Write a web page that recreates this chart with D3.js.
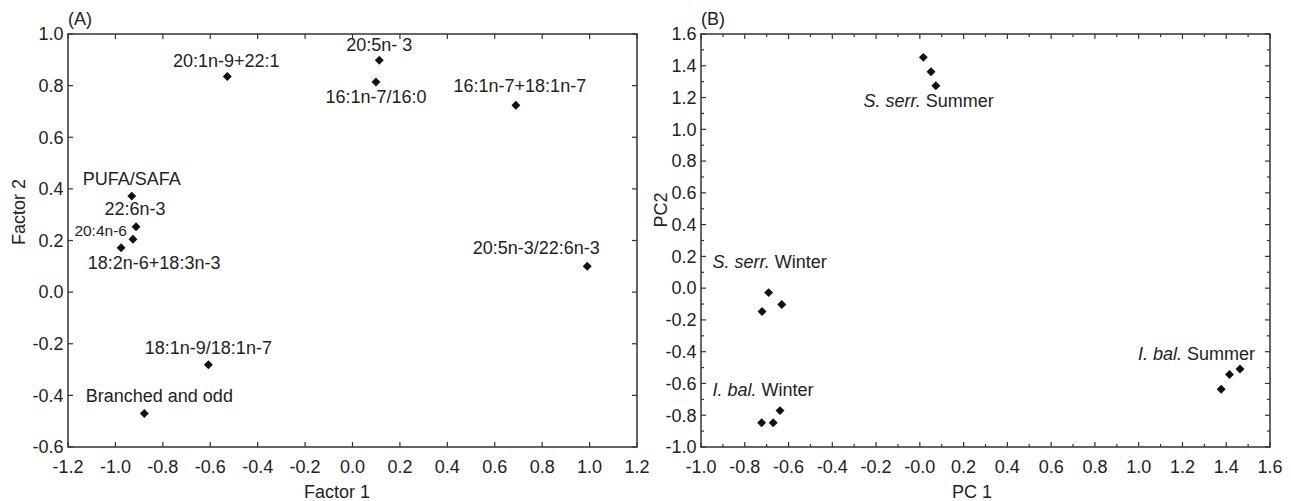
<!DOCTYPE html>
<html>
<head>
<meta charset="utf-8">
<script src="https://cdn.jsdelivr.net/npm/d3@7"></script>
<style>
  body { margin: 0; background: #fff; }
  svg text { font-family: "Liberation Sans", Arial, sans-serif; fill: #222; }
</style>
</head>
<body>
<div id="chart"></div>
<script>
// panel A: factor loadings
var fattyAcids = ['20:1n-9+22:1', '20:5n- 3', '16:1n-7/16:0', '16:1n-7+18:1n-7', 'PUFA/SAFA', '22:6n-3',
  '20:4n-6', '18:2n-6+18:3n-3', '20:5n-3/22:6n-3', '18:1n-9/18:1n-7', 'Branched and odd']
var factor1 = [-0.528, 0.113, 0.099, 0.689, -0.931, -0.913, -0.926, -0.976, 0.990, -0.608, -0.878]
var factor2 = [0.835, 0.898, 0.814, 0.724, 0.372, 0.253, 0.205, 0.172, 0.100, -0.281, -0.470]

// panel B: PCA scores
var pcGroup = ['S. serr. Summer', 'S. serr. Summer', 'S. serr. Summer',
  'S. serr. Winter', 'S. serr. Winter', 'S. serr. Winter',
  'I. bal. Winter', 'I. bal. Winter', 'I. bal. Winter',
  'I. bal. Summer', 'I. bal. Summer', 'I. bal. Summer']
var pc1 = [0.016, 0.051, 0.073, -0.691, -0.631, -0.721, -0.639, -0.723, -0.670, 1.463, 1.415, 1.377]
var pc2 = [1.453, 1.362, 1.274, -0.028, -0.103, -0.147, -0.771, -0.847, -0.847, -0.509, -0.544, -0.637]
var groupNames = ['S. serr. Summer', 'S. serr. Winter', 'I. bal. Winter', 'I. bal. Summer']
var groupItalic = ['S. serr.', 'S. serr.', 'I. bal.', 'I. bal.']
var groupPlain = [' Summer', ' Winter', ' Winter', ' Summer']

// tick labels
var aXTicks = ['-1.2', '-1.0', '-0.8', '-0.6', '-0.4', '-0.2', '0.0', '0.2', '0.4', '0.6', '0.8', '1.0', '1.2']
var aYTicks = ['-0.6', '-0.4', '-0.2', '0.0', '0.2', '0.4', '0.6', '0.8', '1.0']
var bXTicks = ['-1.0', '-0.8', '-0.6', '-0.4', '-0.2', '-0.0', '0.2', '0.4', '0.6', '0.8', '1.0', '1.2', '1.4', '1.6']
var bYTicks = ['-1.0', '-0.8', '-0.6', '-0.4', '-0.2', '0.0', '0.2', '0.4', '0.6', '0.8', '1.0', '1.2', '1.4', '1.6']

// label placement (layout only)
var aLabelOffset = [[-1, -10, 'middle'], [0, -9, 'middle'], [0, 21, 'middle'], [4, -13, 'middle'],
  [0, -11, 'middle'], [-1, -12, 'middle'], [-6, -3, 'end'], [33, 21, 'middle'], [-51, -12, 'middle'],
  [0, -11, 'middle'], [15, -11, 'middle']]
var bLabelPos = [[-0.258, 1.138, 'start'], [-0.948, 0.124, 'start'], [-0.948, -0.679, 'start'], [1.532, -0.454, 'end']]

var W = 1291, H = 501
var axisColor = '#333'

var svg = d3.select('#chart').append('svg')
  .attr('width', W)
  .attr('height', H)

var diamond = d3.symbol().type(d3.symbolSquare).size(40)

function tickStr(v) { return Math.round(v * 10) }

function frame(g, x, y, majorX, majorY, minorX, minorY) {
  var x0 = x.range()[0], x1 = x.range()[1]
  var y0 = y.range()[0], y1 = y.range()[1]
  g.append('rect')
    .attr('x', x0).attr('y', y1)
    .attr('width', x1 - x0).attr('height', y0 - y1)
    .attr('fill', 'none').attr('stroke', axisColor).attr('stroke-width', 1.5)

  function ticks(vals, len, horiz) {
    vals.forEach(function (v) {
      if (horiz) {
        var px = x(v)
        g.append('line').attr('x1', px).attr('x2', px).attr('y1', y0).attr('y2', y0 - len).attr('stroke', axisColor).attr('stroke-width', 1.2)
        g.append('line').attr('x1', px).attr('x2', px).attr('y1', y1).attr('y2', y1 + len).attr('stroke', axisColor).attr('stroke-width', 1.2)
      } else {
        var py = y(v)
        g.append('line').attr('x1', x0).attr('x2', x0 + len).attr('y1', py).attr('y2', py).attr('stroke', axisColor).attr('stroke-width', 1.2)
        g.append('line').attr('x1', x1).attr('x2', x1 - len).attr('y1', py).attr('y2', py).attr('stroke', axisColor).attr('stroke-width', 1.2)
      }
    })
  }
  ticks(majorX, 5, true)
  ticks(majorY, 5, false)
  if (minorX) ticks(minorX, 3, true)
  if (minorY) ticks(minorY, 3, false)
}

function tickLabels(g, x, y, xt, yt) {
  g.selectAll('.xt').data(xt).enter().append('text')
    .attr('x', function (d) { return x(+d) })
    .attr('y', y.range()[0] + 26)
    .attr('text-anchor', 'middle')
    .style('font-size', '18px')
    .text(function (d) { return d })
  g.selectAll('.yt').data(yt).enter().append('text')
    .attr('x', x.range()[0] - 4.5)
    .attr('y', function (d) { return y(+d) })
    .attr('dy', '0.35em')
    .attr('text-anchor', 'end')
    .style('font-size', '18px')
    .text(function (d) { return d })
}

// ---------- Panel A ----------
var xA = d3.scaleLinear().domain([-1.2, 1.2]).range([68, 637])
var yA = d3.scaleLinear().domain([-0.6, 1.0]).range([447, 34])
var gA = svg.append('g')

frame(gA, xA, yA, aXTicks.map(Number), aYTicks.map(Number))
tickLabels(gA, xA, yA, aXTicks, aYTicks)

gA.selectAll('.pt').data(fattyAcids).enter().append('path')
  .attr('d', diamond)
  .attr('transform', function (d, i) {
    return 'translate(' + xA(factor1[i]) + ',' + yA(factor2[i]) + ') rotate(45)'
  })
  .attr('fill', '#111')

gA.selectAll('.lbl').data(fattyAcids).enter().append('text')
  .attr('x', function (d, i) { return xA(factor1[i]) + aLabelOffset[i][0] })
  .attr('y', function (d, i) { return yA(factor2[i]) + aLabelOffset[i][1] })
  .attr('text-anchor', function (d, i) { return aLabelOffset[i][2] })
  .style('font-size', function (d) { return d === '20:4n-6' ? '15.5px' : '18px' })
  .text(function (d) { return d })

gA.append('text').attr('x', 68).attr('y', 25).style('font-size', '18px').text('(A)')
gA.append('text').attr('x', 337).attr('y', 498).attr('text-anchor', 'middle').style('font-size', '18px').text('Factor 1')
gA.append('text')
  .attr('transform', 'translate(25,212) rotate(-90)')
  .attr('text-anchor', 'middle')
  .style('font-size', '18px')
  .text('Factor 2')

// ---------- Panel B ----------
var xB = d3.scaleLinear().domain([-1.0, 1.6]).range([701, 1270])
var yB = d3.scaleLinear().domain([-1.0, 1.6]).range([447, 34])
var gB = svg.append('g')

var minorB = d3.range(-9, 16, 2).map(function (v) { return v / 10 })
frame(gB, xB, yB, bXTicks.map(Number), bYTicks.map(Number), minorB, minorB)
tickLabels(gB, xB, yB, bXTicks, bYTicks)

gB.selectAll('.pt').data(pcGroup).enter().append('path')
  .attr('d', diamond)
  .attr('transform', function (d, i) {
    return 'translate(' + xB(pc1[i]) + ',' + yB(pc2[i]) + ') rotate(45)'
  })
  .attr('fill', '#111')

groupNames.forEach(function (name, i) {
  var t = gB.append('text')
    .attr('x', xB(bLabelPos[i][0]))
    .attr('y', yB(bLabelPos[i][1]))
    .attr('text-anchor', bLabelPos[i][2])
    .style('font-size', '18px')
  t.append('tspan').style('font-style', 'italic').text(groupItalic[i])
  t.append('tspan').text(groupPlain[i])
})

gB.append('text').attr('x', 701).attr('y', 25).style('font-size', '18px').text('(B)')
gB.append('text').attr('x', 972).attr('y', 498).attr('text-anchor', 'middle').style('font-size', '18px').text('PC 1')
gB.append('text')
  .attr('transform', 'translate(667,210) rotate(-90)')
  .attr('text-anchor', 'middle')
  .style('font-size', '18px')
  .text('PC2')
</script>
</body>
</html>
